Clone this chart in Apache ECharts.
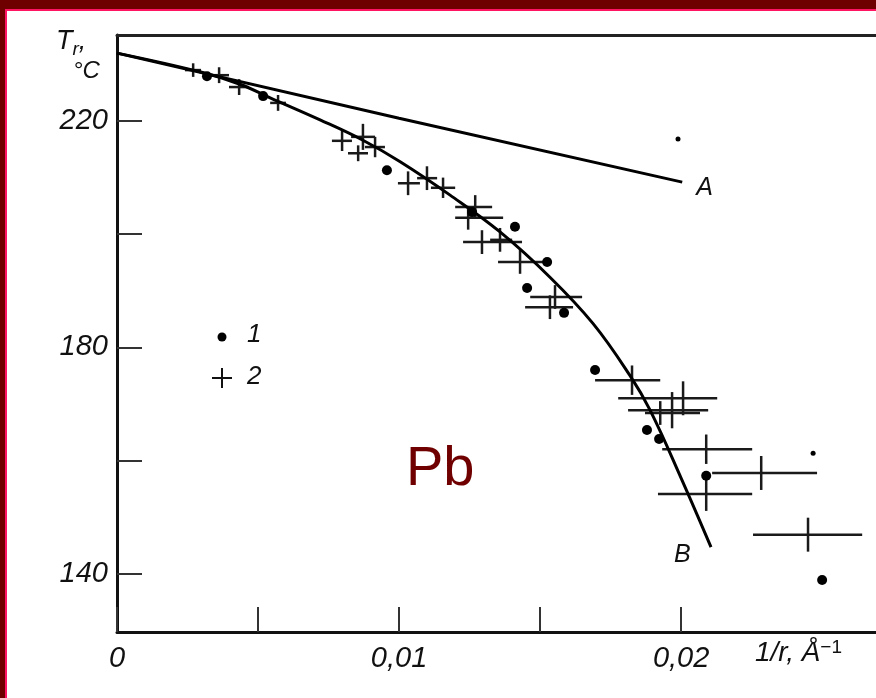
<!DOCTYPE html>
<html>
<head>
<meta charset="utf-8">
<script src="https://cdn.jsdelivr.net/npm/echarts@6/dist/echarts.min.js"></script>
<style>
  html, body { margin: 0; padding: 0; background: #fff; }
  #chart { width: 876px; height: 698px; }
</style>
</head>
<body>
<div id="chart"></div>
<script>
// curve A (straight) and curve B, [1/r, T]
var curveA = [[0, 232.0], [0.01, 220.5], [0.02004, 209.2]];
var curveB = [
  [0, 232.0], [0.00294, 228.7], [0.00436, 226.5], [0.00543, 224.1], [0.0072, 220.2],
  [0.00872, 216.6], [0.01004, 212.8], [0.01181, 206.9], [0.01358, 200.4], [0.01535, 192.4],
  [0.01688, 184.2], [0.01819, 175.0], [0.0189, 168.9], [0.02, 156.9],
  [0.02106, 144.7]
];
// set 1 (dots)
var dots1 = [
  [0.00319, 227.9], [0.00518, 224.4], [0.00957, 211.3], [0.01259, 203.9], [0.01411, 201.3],
  [0.01525, 195.1], [0.01454, 190.5], [0.01585, 186.1], [0.01695, 176.0], [0.01879, 165.4],
  [0.01922, 163.8], [0.02089, 157.3], [0.025, 138.9]
];
var specks = [[0.01989, 216.8], [0.02468, 161.3]];
// set 2 (crosses): [x, T, xLow, xHigh, dT]
var crosses2 = [
  [0.0027, 229.0, 0.00241, 0.00298, 1.2],
  [0.00362, 228.1, 0.00326, 0.00397, 1.4],
  [0.00433, 226.0, 0.00397, 0.00468, 1.4],
  [0.00571, 223.2, 0.00543, 0.00599, 1.4],
  [0.00798, 216.5, 0.00762, 0.00833, 1.8],
  [0.00872, 217.2, 0.0083, 0.00915, 2.3],
  [0.00855, 214.3, 0.00819, 0.0089, 1.4],
  [0.00915, 215.4, 0.00879, 0.0095, 1.8],
  [0.01032, 209.0, 0.00996, 0.01074, 2.1],
  [0.01099, 209.9, 0.01064, 0.01135, 2.1],
  [0.01156, 208.2, 0.01113, 0.01199, 1.8],
  [0.0127, 204.8, 0.01199, 0.0133, 2.1],
  [0.01245, 202.9, 0.01199, 0.01369, 2.1],
  [0.01294, 198.6, 0.01227, 0.01436, 2.1],
  [0.01358, 199.0, 0.01323, 0.01401, 2.1],
  [0.01429, 195.1, 0.01351, 0.01535, 2.1],
  [0.01553, 188.9, 0.01465, 0.01649, 2.1],
  [0.01535, 187.1, 0.01447, 0.01617, 2.1],
  [0.01826, 174.2, 0.01695, 0.01926, 2.6],
  [0.02007, 171.0, 0.01777, 0.02128, 3.0],
  [0.01968, 168.9, 0.01812, 0.02096, 3.2],
  [0.01926, 168.4, 0.01872, 0.02067, 2.1],
  [0.02089, 162.0, 0.01933, 0.02252, 2.6],
  [0.02089, 154.1, 0.01918, 0.02252, 3.0],
  [0.02284, 157.8, 0.0211, 0.02482, 3.0],
  [0.0245, 146.9, 0.02255, 0.02642, 3.0]
];
var xTicks = [0, 0.005, 0.01, 0.015, 0.02];
var xLabels = [0, 0.01, 0.02];
var yTicks = [140, 160, 180, 200, 220];
var yLabels = [140, 180, 220];

var chart = echarts.init(document.getElementById('chart'));
var ink = '#111';
var fam = 'Liberation Sans, Arial, sans-serif';
var labelFont = {
    color: ink,
    fontSize: 29,
    fontStyle: 'italic',
    fontFamily: fam
};

var option = {
    backgroundColor: '#fff',
    animation: false,
    // plot runs past the right edge of the picture, so the box is cut at 876
    grid: { left: 117, top: 35, width: 759, height: 597 },
    xAxis: [
        {
            type: 'value', min: 0, max: 0.02691, position: 'bottom',
            axisLine: { lineStyle: { color: ink, width: 3 } },
            axisTick: { inside: true, length: 25, customValues: xTicks, lineStyle: { color: '#333', width: 2 } },
            axisLabel: Object.assign({
                margin: 12,
                customValues: xLabels,
                formatter: function (v) { return v === 0 ? '0' : v.toFixed(2).replace('.', ','); }
            }, labelFont),
            splitLine: { show: false }
        },
        {
            type: 'value', min: 0, max: 0.02691, position: 'top',
            axisLine: { show: true, lineStyle: { color: '#222', width: 3 } },
            axisTick: { show: false }, axisLabel: { show: false }, splitLine: { show: false }
        }
    ],
    yAxis: {
        type: 'value', min: 129.7, max: 235.2,
        axisLine: { show: true, lineStyle: { color: ink, width: 3 } },
        axisTick: { inside: true, length: 25, customValues: yTicks, lineStyle: { color: '#333', width: 2 } },
        axisLabel: Object.assign({ margin: 9, customValues: yLabels }, labelFont),
        splitLine: { show: false }
    },
    graphic: [
        { type: 'rect', shape: { x: 0, y: 0, width: 876, height: 9 }, style: { fill: '#6e0000' } },
        { type: 'rect', shape: { x: 0, y: 0, width: 5, height: 698 }, style: { fill: '#6e0000' } },
        { type: 'rect', shape: { x: 5, y: 9, width: 871, height: 2 }, style: { fill: '#ff1464' } },
        { type: 'rect', shape: { x: 5, y: 9, width: 2, height: 689 }, style: { fill: '#ff1464' } },
        {
            type: 'text', left: 406, top: 442,
            style: { text: 'Pb', fill: '#700000', fontSize: 56, fontFamily: fam }
        },
        {
            type: 'text', left: 56, top: 28,
            style: {
                text: '{t|T}{s|r}{t|,}\n{c|°C}',
                rich: {
                    t: { fontSize: 27, fontStyle: 'italic', fill: ink, fontFamily: fam },
                    s: { fontSize: 19, fontStyle: 'italic', fill: ink, fontFamily: fam, padding: [16, 0, 0, 0] },
                    c: { fontSize: 24, fontStyle: 'italic', fill: ink, fontFamily: fam, padding: [0, 0, 0, 17] }
                }
            }
        },
        {
            type: 'text', left: 755, top: 638,
            style: {
                text: '{a|1/r, Å}{b|−1}',
                rich: {
                    a: { fontSize: 28, fontStyle: 'italic', fill: ink, fontFamily: fam },
                    b: { fontSize: 19, fill: ink, fontFamily: fam, padding: [0, 0, 12, 0] }
                }
            }
        },
        // legend
        { type: 'circle', shape: { cx: 222, cy: 337, r: 4.5 }, style: { fill: '#000' } },
        { type: 'text', left: 247, top: 322, style: { text: '1', fontSize: 26, fontStyle: 'italic', fill: ink, fontFamily: fam } },
        { type: 'line', shape: { x1: 212, y1: 378, x2: 232, y2: 378 }, style: { stroke: ink, lineWidth: 2 } },
        { type: 'line', shape: { x1: 222, y1: 368, x2: 222, y2: 388 }, style: { stroke: ink, lineWidth: 2 } },
        { type: 'text', left: 247, top: 364, style: { text: '2', fontSize: 26, fontStyle: 'italic', fill: ink, fontFamily: fam } }
    ],
    series: [
        {
            name: 'A', type: 'line', data: curveA, showSymbol: false,
            lineStyle: { color: '#000', width: 3 },
            endLabel: {
                show: true, formatter: 'A', offset: [6, 6],
                color: ink, fontSize: 25, fontStyle: 'italic', fontFamily: fam
            }
        },
        {
            name: 'B', type: 'line', data: curveB, showSymbol: false, smooth: 0.4,
            lineStyle: { color: '#000', width: 3 },
            endLabel: {
                show: true, formatter: 'B', offset: [-45, 8],
                color: ink, fontSize: 25, fontStyle: 'italic', fontFamily: fam
            }
        },
        {
            name: '2', type: 'custom', data: crosses2,
            renderItem: function (params, api) {
                var c = api.coord([api.value(0), api.value(1)]);
                var lo = api.coord([api.value(2), api.value(1)]);
                var hi = api.coord([api.value(3), api.value(1)]);
                var top = api.coord([api.value(0), api.value(1) + api.value(4)]);
                var bot = api.coord([api.value(0), api.value(1) - api.value(4)]);
                return {
                    type: 'group',
                    children: [
                        { type: 'line', shape: { x1: lo[0], y1: c[1], x2: hi[0], y2: c[1] }, style: { stroke: '#1a1a1a', lineWidth: 2.5 } },
                        { type: 'line', shape: { x1: c[0], y1: top[1], x2: c[0], y2: bot[1] }, style: { stroke: '#1a1a1a', lineWidth: 2.5 } }
                    ]
                };
            }
        },
        {
            name: '1', type: 'scatter', data: dots1, symbolSize: 10,
            itemStyle: { color: '#000', opacity: 1 }
        },
        {
            name: 'specks', type: 'scatter', data: specks, symbolSize: 5,
            itemStyle: { color: '#000', opacity: 1 }
        }
    ]
};
chart.setOption(option);
</script>
</body>
</html>
